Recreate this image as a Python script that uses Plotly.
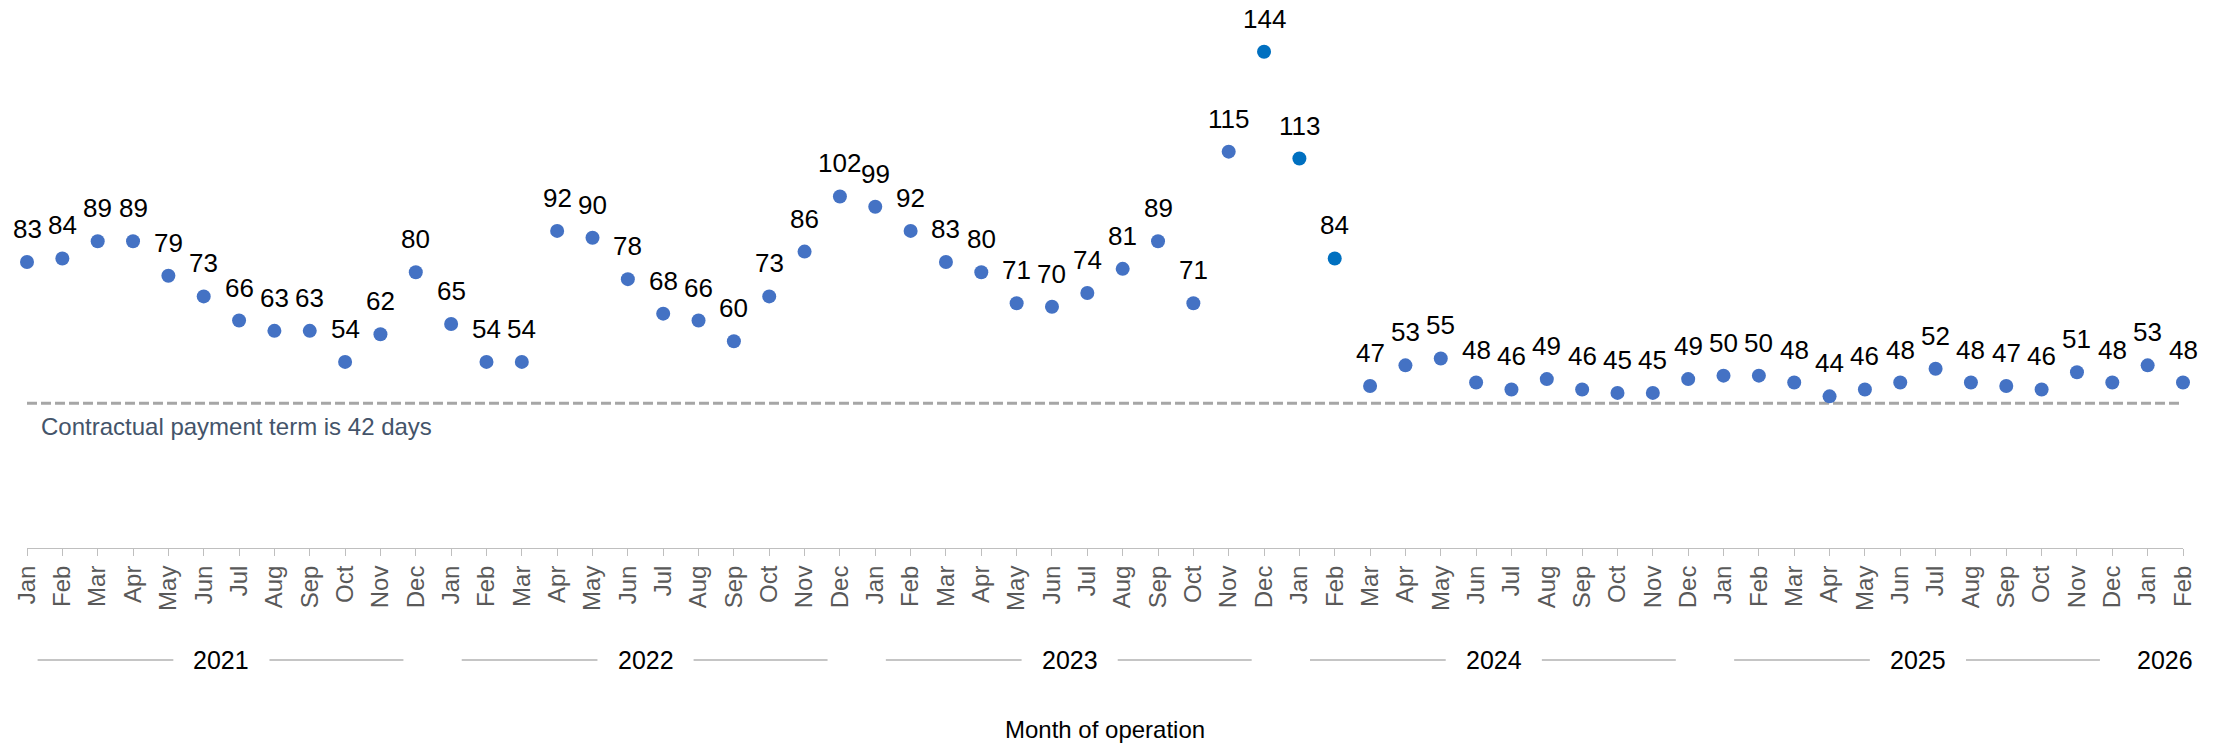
import plotly.graph_objects as go

# Monthly series: Jan 2021 – Feb 2026
month_names = ["Jan", "Feb", "Mar", "Apr", "May", "Jun",
               "Jul", "Aug", "Sep", "Oct", "Nov", "Dec"]
years = [2021, 2022, 2023, 2024, 2025, 2026]
months_in_year = [12, 12, 12, 12, 12, 2]

days = [
    83, 84, 89, 89, 79, 73, 66, 63, 63, 54, 62, 80,      # 2021
    65, 54, 54, 92, 90, 78, 68, 66, 60, 73, 86, 102,     # 2022
    99, 92, 83, 80, 71, 70, 74, 81, 89, 71, 115, 144,    # 2023
    113, 84, 47, 53, 55, 48, 46, 49, 46, 45, 45, 49,     # 2024
    50, 50, 48, 44, 46, 48, 52, 48, 47, 46, 51, 48,      # 2025
    53, 48,                                              # 2026
]
# months drawn in the accent colour (Dec 2023 – Feb 2024)
highlight_idx = [35, 36, 37]

contract_term = 42
contract_label = "Contractual payment term is 42 days"
x_title = "Month of operation"

BASE = "#4472C4"
ACCENT = "#0070C0"
FONT = "Liberation Sans, Arial, sans-serif"

tick_text = []
for n in months_in_year:
    tick_text += month_names[:n]
x = list(range(len(days)))
colors = [ACCENT if i in highlight_idx else BASE for i in x]

fig = go.Figure()
fig.add_trace(go.Scatter(
    x=x, y=days, mode="markers",
    marker=dict(size=14, color=colors, line=dict(width=0)),
    cliponaxis=False, hoverinfo="x+y", showlegend=False,
))

annotations = []
for i, v in zip(x, days):
    annotations.append(dict(
        x=i, y=v, xref="x", yref="y", text=str(v), showarrow=False,
        yshift=33, font=dict(family=FONT, size=26, color="#000000"),
    ))

shapes = [dict(
    type="line", xref="x", yref="y", x0=0, x1=len(days) - 1,
    y0=contract_term, y1=contract_term,
    line=dict(color="#A6A6A6", width=3, dash="10px,4px"), layer="below",
)]
annotations.append(dict(
    x=0, y=contract_term, xref="x", yref="y", text=contract_label,
    showarrow=False, xanchor="left", yanchor="middle", xshift=12, yshift=-23,
    font=dict(family=FONT, size=24, color="#44546A"),
))

# Year group labels with rules either side
PLOT_H = 548
year_y = (PLOT_H - 660) / PLOT_H
start = 0
for yr, n in zip(years, months_in_year):
    end = start + n - 1
    mid = (start + end) / 2
    annotations.append(dict(
        x=mid, y=year_y, xref="x", yref="paper", text=str(yr),
        showarrow=False, xanchor="center", yanchor="middle",
        font=dict(family=FONT, size=25, color="#000000"),
    ))
    if n >= 12:
        for a, b in [(start + 0.3, mid - 1.36), (mid + 1.36, end - 0.35)]:
            shapes.append(dict(
                type="line", xref="x", yref="paper", x0=a, x1=b,
                y0=year_y, y1=year_y, line=dict(color="#8C8C8C", width=1.2),
            ))
    start += n

annotations.append(dict(
    x=0.5, y=(PLOT_H - 729) / PLOT_H, xref="paper", yref="paper",
    text=x_title, showarrow=False, xanchor="center", yanchor="middle",
    font=dict(family=FONT, size=24, color="#000000"),
))

fig.update_layout(
    width=2221, height=743,
    margin=dict(l=27, r=38, t=0, b=743 - PLOT_H),
    paper_bgcolor="white", plot_bgcolor="white",
    font=dict(family=FONT),
    xaxis=dict(
        range=[0, len(days) - 1], tickmode="array", tickvals=x,
        ticktext=tick_text, tickangle=-90,
        tickfont=dict(family=FONT, size=24, color="#595959"),
        ticks="outside", ticklen=7, tickcolor="#BFBFBF", tickwidth=1,
        showline=True, linecolor="#BFBFBF", linewidth=1,
        showgrid=False, zeroline=False, fixedrange=True,
    ),
    yaxis=dict(
        range=[0, 159], visible=False, showgrid=False, zeroline=False,
        fixedrange=True,
    ),
    shapes=shapes, annotations=annotations,
)

fig.write_html("out.html")
